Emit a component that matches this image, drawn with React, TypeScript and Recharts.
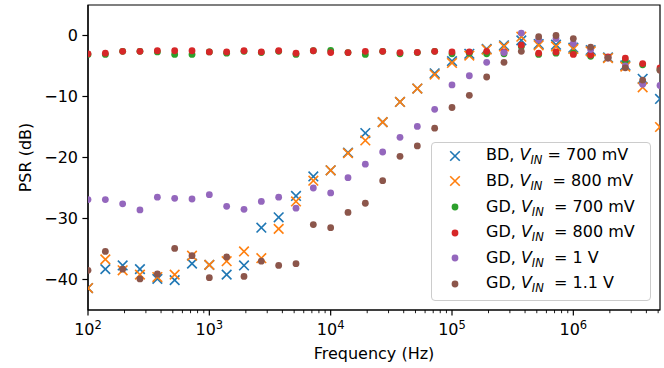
// PSR vs frequency, BD / GD devices at several supply voltages
import { ScatterChart, Scatter, XAxis, YAxis, ReferenceArea } from 'recharts'

// frequency points (Hz), 7 per decade
const FREQ = [
    100, 139, 193, 268, 373, 518, 720,
    1000, 1389, 1931, 2683, 3728, 5179, 7197,
    10000, 13895, 19307, 26827, 37276, 51795, 71969,
    100000, 138950, 193070, 268270, 372760, 517950, 719690,
    1000000, 1389500, 1930700, 2682700, 3727600, 5179500,
]

const BD_700 = [
    -41.4, -38.3, -37.7, -38.3, -39.9, -40.1, -37.4,
    -37.6, -39.2, -37.7, -31.5, -29.8, -26.3, -23.1,
    -22.1, -19.2, -16.0, -14.2, -10.9, -8.7, -6.2,
    -4.2, -3.0, -2.2, -1.6, -0.8, -1.4, -1.5,
    -2.0, -2.4, -3.6, -4.9, -7.1, -10.4,
]
const BD_800 = [
    -41.4, -36.7, -38.5, -39.2, -39.6, -39.2, -36.1,
    -37.6, -37.0, -35.4, -36.5, -31.7, -27.2, -23.8,
    -22.1, -19.3, -17.2, -14.2, -10.9, -8.7, -6.4,
    -4.5, -3.3, -2.3, -1.8, -0.2, -1.6, -1.8,
    -2.2, -2.6, -3.7, -5.1, -8.5, -15.0,
]
const GD_700 = [
    -3.1, -3.1, -2.6, -2.6, -2.7, -3.1, -3.1,
    -2.7, -2.9, -2.6, -2.8, -2.6, -3.1, -2.5,
    -2.45, -2.8, -3.1, -2.6, -3.0, -2.8, -2.6,
    -3.0, -2.9, -3.0, -3.0, -1.8, -3.1, -2.9,
    -2.9, -3.4, -3.6, -4.1, -4.8, -5.6,
]
const GD_800 = [
    -3.0, -2.9, -2.6, -2.6, -2.5, -2.5, -2.5,
    -2.7, -2.7, -2.5, -2.7, -2.5, -2.9, -2.5,
    -2.8, -2.8, -2.6, -2.6, -2.8, -2.75, -2.6,
    -2.7, -2.7, -2.6, -2.7, -1.6, -2.9, -2.7,
    -3.1, -3.2, -3.5, -3.7, -4.6, -5.3,
]
const GD_1V = [
    -26.9, -26.9, -27.6, -28.6, -26.5, -26.7, -26.8,
    -26.1, -28.0, -28.5, -27.2, -26.5, -28.3, -25.0,
    -25.8, -23.3, -21.1, -19.1, -16.7, -14.9, -12.1,
    -8.1, -6.6, -4.4, -2.8, 0.4, -0.7, -0.5,
    -1.3, -2.3, -3.7, -5.0, -8.0, -8.2,
]
const GD_1V1 = [
    -38.5, -35.4, -38.3, -39.9, -39.1, -34.9, -36.1,
    -39.7, -36.3, -39.5, -37.0, -37.7, -37.4, -31.0,
    -31.5, -29.0, -27.5, -23.8, -19.8, -18.1, -15.2,
    -11.8, -9.8, -6.8, -4.4, -2.6, -0.2, 0.0,
    -0.5, -1.9, -3.7, -5.3, -7.3, -5.7,
]

const X_MAJOR = [100, 1000, 10000, 100000, 1000000]
const X_MINOR = [
    200, 300, 400, 500, 600, 700, 800, 900,
    2000, 3000, 4000, 5000, 6000, 7000, 8000, 9000,
    20000, 30000, 40000, 50000, 60000, 70000, 80000, 90000,
    200000, 300000, 400000, 500000, 600000, 700000, 800000, 900000,
    2000000, 3000000, 4000000, 5000000,
]
const Y_TICKS = [-40, -30, -20, -10, 0]

const SERIES = [
    { name: 'BD', vin: '700 mV', values: BD_700, color: '#1f77b4', marker: 'x', gap: ' ' },
    { name: 'BD', vin: '800 mV', values: BD_800, color: '#ff7f0e', marker: 'x', gap: '  ' },
    { name: 'GD', vin: '700 mV', values: GD_700, color: '#2ca02c', marker: 'o', gap: '  ' },
    { name: 'GD', vin: '800 mV', values: GD_800, color: '#d62728', marker: 'o', gap: '  ' },
    { name: 'GD', vin: '1 V', values: GD_1V, color: '#9467bd', marker: 'o', gap: '  ' },
    { name: 'GD', vin: '1.1 V', values: GD_1V1, color: '#8c564b', marker: 'o', gap: '  ' },
]

const F_MIN = FREQ[0]
const F_MAX = FREQ[FREQ.length - 1]
const FONT = "'DejaVu Sans', sans-serif"

function Marker({ cx, cy, color, marker }: { cx: number; cy: number; color: string; marker: string }) {
    if (marker === 'x') {
        const h = 4.8
        return (
            <g stroke={color} strokeWidth={1.6}>
                <line x1={cx - h} y1={cy - h} x2={cx + h} y2={cy + h} />
                <line x1={cx - h} y1={cy + h} x2={cx + h} y2={cy - h} />
            </g>
        )
    }
    return <circle cx={cx} cy={cy} r={3.4} fill={color} />
}

function FreqTick({ x, y, payload }: any) {
    const v = payload.value
    const major = X_MAJOR.includes(v)
    return (
        <g>
            <line x1={x} x2={x} y1={y} y2={y + (major ? 5.6 : 3.2)} stroke="#000" strokeWidth={major ? 1.2 : 0.9} />
            {major && (
                <text x={x} y={y + 25} textAnchor="middle" fontSize={16} fill="#000" fontFamily={FONT}>
                    10<tspan dy={-6} fontSize={11.5}>{Math.round(Math.log10(v))}</tspan>
                </text>
            )}
        </g>
    )
}

const fmtY = (v: number) => (v < 0 ? `\u2212${Math.abs(v)}` : `${v}`)

export default function App() {
    return (
        <div style={{ position: 'absolute', left: 0, top: 0, width: 664, height: 368, fontFamily: FONT, background: '#fff' }}>
            <ScatterChart width={664} height={368} margin={{ top: 5, right: 4, bottom: 0, left: 0 }}>
                <XAxis
                    dataKey="f"
                    type="number"
                    scale="log"
                    domain={[F_MIN, F_MAX]}
                    allowDataOverflow
                    ticks={[...X_MAJOR, ...X_MINOR].sort((a, b) => a - b)}
                    interval={0}
                    tick={<FreqTick />}
                    tickLine={false}
                    tickSize={0}
                    tickMargin={0}
                    height={58}
                    axisLine={{ stroke: '#000', strokeWidth: 1.2 }}
                    label={{
                        content: (p: any) => (
                            <text x={p.viewBox.x + p.viewBox.width / 2} y={p.viewBox.y + 49} textAnchor="middle" fontSize={16} fill="#000" fontFamily={FONT}>
                                Frequency (Hz)
                            </text>
                        ),
                    }}
                />
                <YAxis
                    dataKey="v"
                    type="number"
                    domain={[-45, 5]}
                    allowDataOverflow
                    ticks={Y_TICKS}
                    tickFormatter={fmtY}
                    width={88}
                    tickSize={5.6}
                    tickMargin={4.4}
                    tick={{ fill: '#000', fontSize: 16 }}
                    tickLine={{ stroke: '#000', strokeWidth: 1.2 }}
                    axisLine={{ stroke: '#000', strokeWidth: 1.2 }}
                    label={{
                        content: (p: any) => {
                            const cx = p.viewBox.x + 30.5
                            const cy = p.viewBox.y + p.viewBox.height / 2
                            return (
                                <text x={cx} y={cy} transform={`rotate(-90 ${cx} ${cy})`} textAnchor="middle" fontSize={16} fill="#000" fontFamily={FONT}>
                                    PSR (dB)
                                </text>
                            )
                        },
                    }}
                />
                {SERIES.map((s, i) => (
                    <Scatter
                        key={i}
                        data={FREQ.map((f, k) => ({ f, v: s.values[k] }))}
                        fill={s.color}
                        isAnimationActive={false}
                        shape={(p: any) => <Marker cx={p.cx} cy={p.cy} color={s.color} marker={s.marker} />}
                    />
                ))}
                <ReferenceArea x1={F_MIN} x2={F_MAX} y1={-45} y2={5} fill="none" stroke="#000" strokeWidth={1.2} ifOverflow="visible" />
            </ScatterChart>
            <div
                style={{
                    position: 'absolute',
                    left: 431,
                    top: 142,
                    width: 218,
                    height: 157,
                    border: '1px solid #cccccc',
                    borderRadius: 4,
                    background: 'rgba(255,255,255,0.8)',
                    fontSize: 16,
                    color: '#000',
                }}
            >
                {SERIES.map((s, i) => (
                    <div key={i} style={{ position: 'absolute', left: 0, top: 0.7 + 25.65 * i, height: 24, display: 'flex', alignItems: 'center', whiteSpace: 'pre', lineHeight: '24px' }}>
                        <svg width={54} height={24} style={{ display: 'block' }}>
                            <Marker cx={23} cy={12} color={s.color} marker={s.marker} />
                        </svg>
                        <span>
                            {s.name}, <i>V</i>
                            <i style={{ fontSize: 11.5, position: 'relative', top: 4 }}>IN</i>
                            {s.gap}= {s.vin}
                        </span>
                    </div>
                ))}
            </div>
        </div>
    )
}
